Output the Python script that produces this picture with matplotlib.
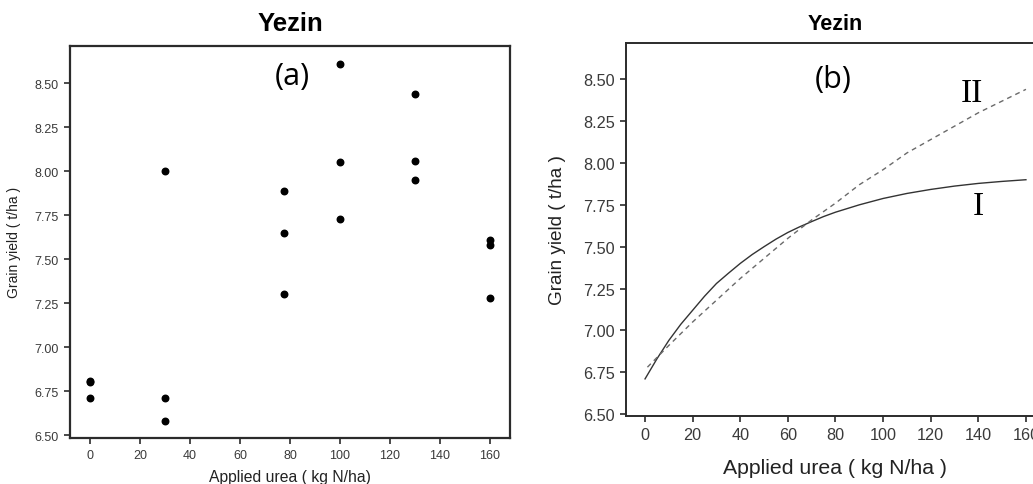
import matplotlib
matplotlib.use("Agg")
import matplotlib.pyplot as plt
import numpy as np
from matplotlib.ticker import FormatStrFormatter

plt.rcParams["font.family"] = ["Liberation Sans", "DejaVu Sans"]

# observed grain yield (t/ha) at each urea rate (kg N/ha)
urea_obs = [0, 0, 0, 30, 30, 30, 77.5, 77.5, 77.5, 100, 100, 100, 130, 130, 130, 160, 160, 160]
yield_obs = [6.81, 6.80, 6.71, 8.00, 6.71, 6.58, 7.89, 7.65, 7.30,
             8.61, 8.05, 7.73, 8.44, 8.06, 7.95, 7.61, 7.58, 7.28]

# fitted response curves
urea_fit_1 = [0, 5, 10, 15, 20, 25, 30, 35, 40, 45, 50, 55, 60, 65, 70, 75, 80,
              90, 100, 110, 120, 130, 140, 150, 160]
yield_fit_1 = [6.71, 6.83, 6.94, 7.036, 7.12, 7.204, 7.28, 7.341, 7.40, 7.453,
               7.50, 7.545, 7.585, 7.619, 7.65, 7.68, 7.706,
               7.75, 7.788, 7.818, 7.842, 7.862, 7.878, 7.89, 7.90]
urea_fit_2 = [1, 10, 20, 30, 40, 50, 60, 70, 80, 90, 100, 110, 120, 130, 140, 150, 160]
yield_fit_2 = [6.78, 6.91, 7.05, 7.18, 7.31, 7.43, 7.55, 7.66, 7.76, 7.87,
               7.96, 8.06, 8.14, 8.22, 8.30, 8.37, 8.44]

x_ticks = [0, 20, 40, 60, 80, 100, 120, 140, 160]
y_ticks = [6.50, 6.75, 7.00, 7.25, 7.50, 7.75, 8.00, 8.25, 8.50]

SPINE = "#2b2b2b"
TICK_TEXT = "#3a3a3a"


def style_axes(ax, tick_size, spine_width):
    for side in ax.spines.values():
        side.set_color(SPINE)
        side.set_linewidth(spine_width)
    ax.set_xticks(x_ticks)
    ax.set_yticks(y_ticks)
    ax.yaxis.set_major_formatter(FormatStrFormatter("%.2f"))
    ax.tick_params(direction="out", length=4, width=1.2, color=SPINE,
                   labelsize=tick_size, labelcolor=TICK_TEXT, pad=4)


fig = plt.figure(figsize=(10.33, 4.85), dpi=100)

# (a) observed yields
ax1 = fig.add_axes([0.0678, 0.0948, 0.4259, 0.8089])
ax1.scatter(urea_obs, yield_obs, s=22, color="black", zorder=3)
ax1.set_xlim(-8, 168)
ax1.set_ylim(6.483, 8.714)
style_axes(ax1, 9, 1.6)
ax1.set_xlabel("Applied urea ( kg N/ha)", fontsize=11.3, color="#222222", labelpad=6)
ax1.set_ylabel("Grain yield ( t/ha )", fontsize=10, color="#222222", labelpad=10)
ax1.set_title("Yezin", fontsize=18.5, fontweight="bold", pad=11)
ax1.text(81, 8.54, "(a)", fontsize=22, family="Open Sans", ha="center", va="center")

# (b) fitted response curves
ax2 = fig.add_axes([0.606, 0.1408, 0.4056, 0.7685])
ax2.plot(urea_fit_1, yield_fit_1, color="#333333", linewidth=1.0)
ax2.plot(urea_fit_2, yield_fit_2, color="#6a6a6a", linewidth=1.0,
         linestyle=(0, (3.5, 3)))
ax2.set_xlim(-8, 168)
ax2.set_ylim(6.49, 8.717)
style_axes(ax2, 11.7, 1.4)
ax2.set_xlabel("Applied urea ( kg N/ha )", fontsize=15.3, color="#222222", labelpad=12)
ax2.set_ylabel("Grain yield ( t/ha )", fontsize=13.6, color="#222222", labelpad=12)
ax2.set_title("Yezin", fontsize=15.5, fontweight="bold", pad=10)
ax2.text(79, 8.50, "(b)", fontsize=22, family="Open Sans", ha="center", va="center")
ax2.text(137.2, 8.42, "II", fontsize=24, family="Liberation Serif", ha="center", va="center")
ax2.text(140, 7.745, "I", fontsize=24, family="Liberation Serif", ha="center", va="center")

fig.savefig("out.png", dpi=100)
